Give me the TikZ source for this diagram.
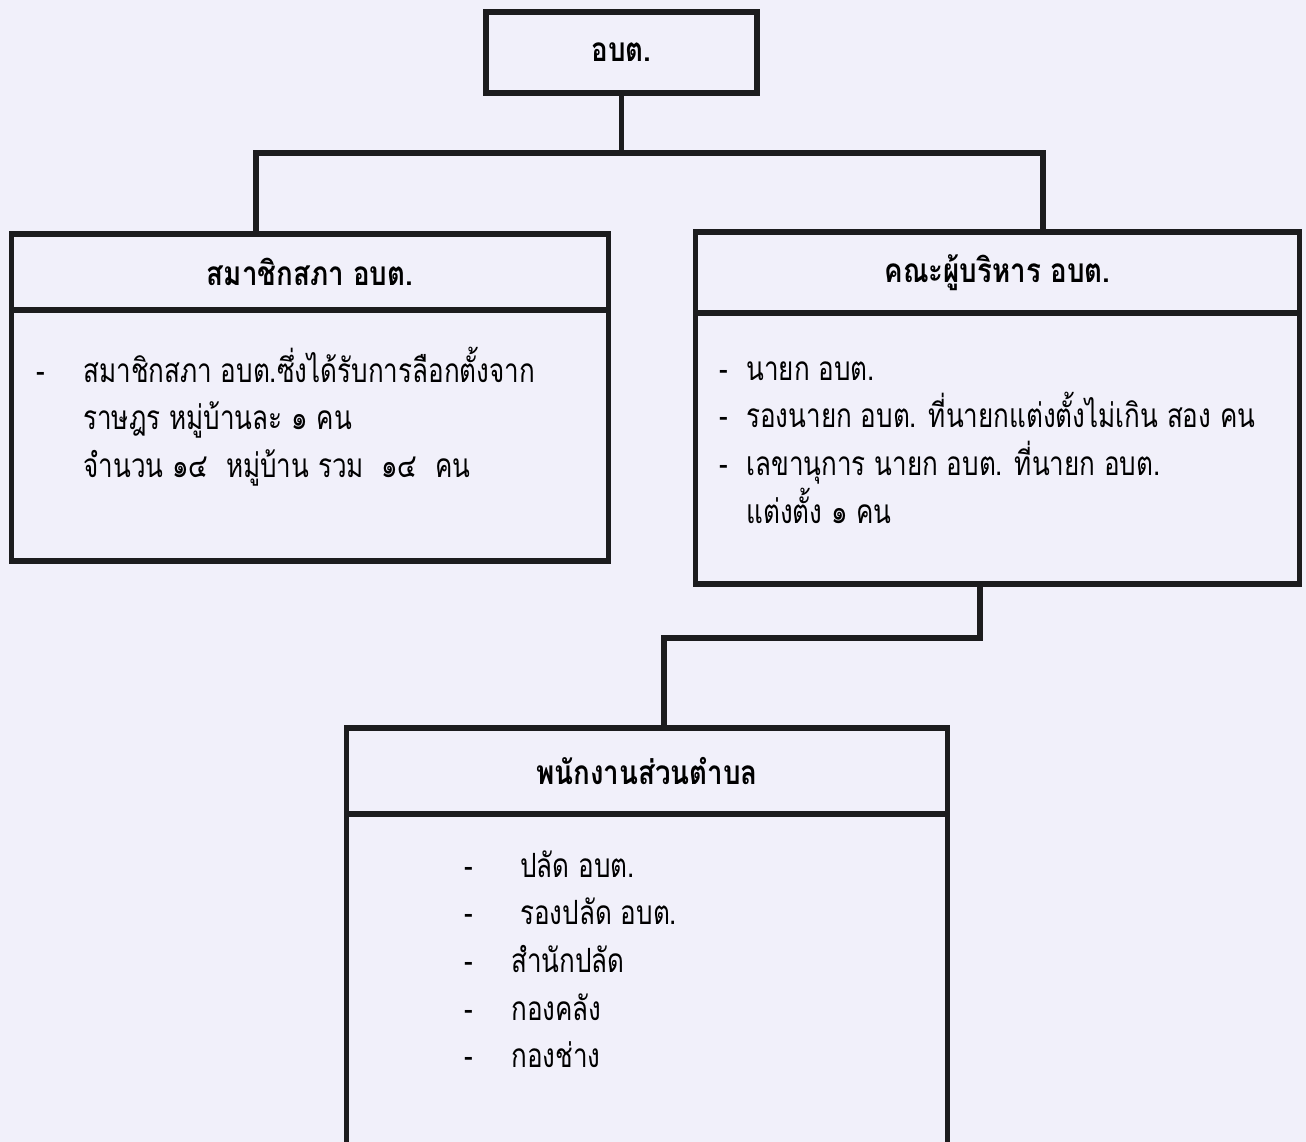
\documentclass[tikz,border=0pt]{standalone}
\usepackage{fontspec}
\newfontfamily\thaifont[Script=Thai, FakeStretch=0.78, BoldFeatures={FakeStretch=0.83}]{Loma}
\usetikzlibrary{positioning}
\definecolor{paper}{RGB}{241,240,250}
\definecolor{ink}{RGB}{28,28,30}

\begin{document}
\begin{tikzpicture}[x=0.02cm,y=-0.02cm,
		box/.style={draw=ink, line width=2.9pt, inner sep=0pt, font=\thaifont\bfseries\fontsize{19}{23}\selectfont},
		conn/.style={draw=ink, line width=2.9pt},
		txt/.style={anchor=base west, inner sep=0pt, font=\thaifont\fontsize{19}{23}\selectfont}]
		\useasboundingbox (0,0) rectangle (1306,1142);
		\clip (0,0) rectangle (1306,1142);
		\fill[paper] (0,0) rectangle (1306,1142);
		
		% top
		\node [box, minimum width=5.42cm, minimum height=1.62cm] (abt) at (621.5,52.5) {อบต.};
		
		% left: council
		\node [box, minimum width=11.96cm, minimum height=1.52cm] (sapha) at (310,272) {สมาชิกสภา อบต.};
		\node [box, minimum width=11.96cm, minimum height=5.02cm] (saphabody) at (310,435.5) {};
		\node [txt] (sd1) at (36,382) {-};
		\node [txt] (s1) at (83,382) {สมาชิกสภา อบต.ซึ่งได้รับการลือกตั้งจาก};
		\node [txt] (s2) at (83,430) {ราษฎร หมู่บ้านละ ๑ คน};
		\node [txt] (s3) at (83,478) {จำนวน ๑๔\ \ หมู่บ้าน รวม\ \ ๑๔\ \ คน};
		
		% right: executives
		\node [box, minimum width=12.1cm, minimum height=1.62cm] (khana) at (997.5,272.5) {คณะผู้บริหาร อบต.};
		\node [box, minimum width=12.1cm, minimum height=5.42cm] (khanabody) at (997.5,448.5) {};
		\node [txt] (kd1) at (719,380) {-};
		\node [txt] (k1) at (746,380) {นายก อบต.};
		\node [txt] (kd2) at (719,428) {-};
		\node [txt] (k2) at (746,428) {รองนายก อบต. ที่นายกแต่งตั้งไม่เกิน สอง คน};
		\node [txt] (kd3) at (719,476) {-};
		\node [txt] (k3) at (746,476) {เลขานุการ นายก อบต. ที่นายก อบต.};
		\node [txt] (k4) at (746,523) {แต่งตั้ง ๑ คน};
		
		% bottom: staff
		\node [box, minimum width=12.04cm, minimum height=1.72cm] (phanak) at (647,771) {พนักงานส่วนตำบล};
		\node [box, minimum width=12.04cm, minimum height=7.12cm] (phanakbody) at (647,992) {};
		\node [txt] (pd1) at (464,877) {-};
		\node [txt] (p1) at (520,877) {ปลัด อบต.};
		\node [txt] (pd2) at (464,924) {-};
		\node [txt] (p2) at (520,924) {รองปลัด อบต.};
		\node [txt] (pd3) at (464,972) {-};
		\node [txt] (p3) at (511,972) {สำนักปลัด};
		\node [txt] (pd4) at (464,1020) {-};
		\node [txt] (p4) at (511,1020) {กองคลัง};
		\node [txt] (pd5) at (464,1067) {-};
		\node [txt] (p5) at (511,1067) {กองช่าง};
		
		% connectors
		\coordinate (bar1) at (621,153);
		\coordinate (saphatop) at (256,234);
		\coordinate (khanatop) at (1043,232);
		\draw [conn] (abt.south) -- (abt.south |- bar1) -| (saphatop);
		\draw [conn] (abt.south |- bar1) -| (khanatop);
		
		\coordinate (bar2) at (0,638);
		\coordinate (khanafoot) at (980,584);
		\coordinate (phanaktop) at (664,728);
		\draw [conn] (khanafoot) -- (khanafoot |- bar2) -| (phanaktop);
		\end{tikzpicture}
\end{document}
